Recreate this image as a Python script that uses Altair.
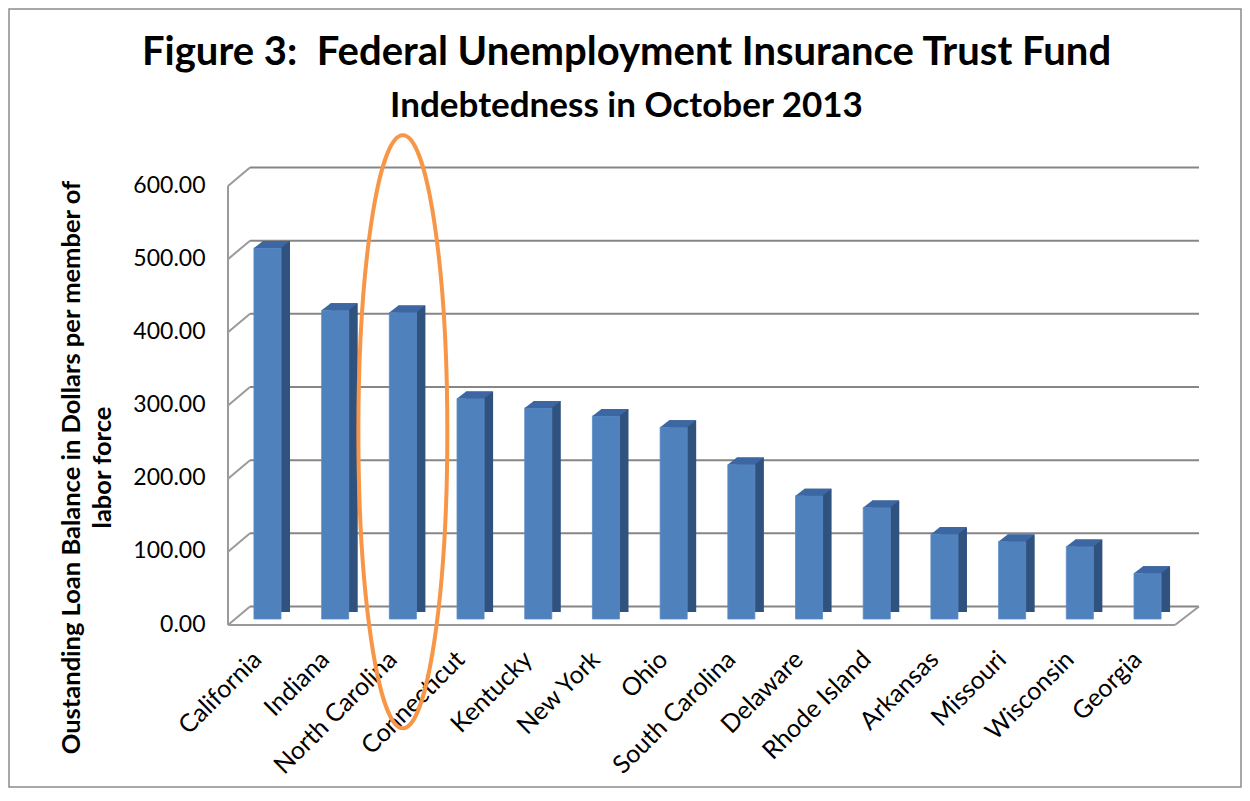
import altair as alt
import pandas as pd

# ---- data ----
states = ["California", "Indiana", "North Carolina", "Connecticut", "Kentucky",
          "New York", "Ohio", "South Carolina", "Delaware", "Rhode Island",
          "Arkansas", "Missouri", "Wisconsin", "Georgia"]
values = [507, 422, 419, 301.5, 288.5, 277.5, 262, 211, 168.5, 152.5,
          116, 106, 99, 62.5]
tick_values = [0, 100, 200, 300, 400, 500, 600]
highlight_state = ["North Carolina"]
highlight_center = [256]

title_line1 = "Figure 3:\u00a0 Federal Unemployment Insurance Trust Fund"
title_line2 = "Indebtedness in October 2013"
y_title = ["Oustanding Loan Balance in Dollars per member of", "labor force"]

df = pd.DataFrame({"state": states, "value": values})
ticks = pd.DataFrame({"tick": tick_values})
hl = pd.DataFrame({"state": highlight_state, "value": highlight_center})
one = pd.DataFrame({"a": [0]})

W, H = 959, 439
DX, DY = 22, -12.5      # back wall offset
FRONT = 6               # front edge offset
BACK_RIGHT = 971
FRONT_RIGHT = 947

FRONT_BLUE = "#4f81bd"
SIDE_BLUE = "#30527e"
TOP_BLUE = "#3d67a3"
GRID = "#868686"
FRONT_GRID = "#9a9a9a"
ORANGE = "#f79646"

x_scale = alt.Scale(domain=states, paddingInner=0.6, paddingOuter=0.383)
y_scale = alt.Scale(domain=[0, 600], nice=False, zero=True)

x_plain = alt.X("state:N", scale=x_scale, sort=states)
y_plain = alt.Y("value:Q", scale=y_scale)

base = alt.Chart(df)

# back wall gridlines
back_grid = alt.Chart(ticks).mark_rule(color=GRID, strokeWidth=2, yOffset=DY).encode(
    x=alt.value(DX), x2=alt.value(BACK_RIGHT),
    y=alt.Y("tick:Q", scale=y_scale))

# side-wall diagonals
diag = alt.Chart(ticks).mark_rule(color=FRONT_GRID, strokeWidth=2,
                                  yOffset=FRONT, y2Offset=DY).encode(
    x=alt.value(0), x2=alt.value(DX),
    y=alt.Y("tick:Q", scale=y_scale), y2="tick:Q")

front_axis = alt.Chart(one).mark_rule(color=FRONT_GRID, strokeWidth=2,
                                      yOffset=FRONT, y2Offset=FRONT).encode(
    x=alt.value(0), y=alt.Y(datum=600, scale=y_scale), y2=alt.Y2(datum=0))

front_floor = alt.Chart(one).mark_rule(color=FRONT_GRID, strokeWidth=2, yOffset=FRONT).encode(
    x=alt.value(0), x2=alt.value(FRONT_RIGHT), y=alt.Y(datum=0, scale=y_scale))

right_floor = alt.Chart(one).mark_rule(color=FRONT_GRID, strokeWidth=2,
                                       yOffset=FRONT, y2Offset=DY).encode(
    x=alt.value(FRONT_RIGHT), x2=alt.value(BACK_RIGHT),
    y=alt.Y(datum=0, scale=y_scale), y2=alt.Y2(datum=0))

side = base.mark_bar(color=SIDE_BLUE, xOffset=9, yOffset=-7, y2Offset=5).encode(
    x=x_plain, y=y_plain)

front = base.mark_bar(color=FRONT_BLUE, stroke="#5b8bc6", strokeWidth=0.8).encode(
    x=alt.X("state:N", scale=x_scale, sort=states,
            axis=alt.Axis(title=None, labelAngle=-45, labelAlign="right",
                          labelBaseline="middle", labelPadding=36, labelOffset=-10,
                          domain=False, ticks=False, grid=False, labelFont="Lato",
                          labelFontSize=25, labelColor="black", labelLimit=400)),
    y=alt.Y("value:Q", scale=y_scale,
            axis=alt.Axis(values=tick_values, format=".2f", title=y_title,
                          domain=False, ticks=False, grid=False,
                          labelFont="Lato", labelFontSize=23, labelColor="black",
                          labelPadding=23, labelOffset=5,
                          titleFont="Lato", titleFontSize=25.5, titleFontWeight="bold",
                          titleColor="black", titleX=-157, titleY=287,
                          titleAlign="center", titleBaseline="middle",
                          titleLineHeight=31)))

TOP_PATH = "M-1,0 L-0.333,-0.519 L1.667,-0.519 L1,0 Z"
top = base.mark_point(shape=TOP_PATH, size=729, filled=True, color=TOP_BLUE,
                      opacity=1, strokeWidth=0).encode(x=x_plain, y=y_plain)

ELLIPSE = ("M0,-1 C0.0828,-1 0.15,-0.5523 0.15,0 C0.15,0.5523 0.0828,1 0,1 "
           "C-0.0828,1 -0.15,0.5523 -0.15,0 C-0.15,-0.5523 -0.0828,-1 0,-1 Z")
ellipse = alt.Chart(hl).mark_point(shape=ELLIPSE, size=593 ** 2, filled=False,
                                   stroke=ORANGE, strokeWidth=4, opacity=1).encode(
    x=x_plain, y=y_plain)

frame = alt.Chart(one).mark_rect(filled=False, fill="transparent", stroke="#8c8c8c",
                                 strokeWidth=1.5).encode(
    x=alt.value(-219), x2=alt.value(1013), y=alt.value(-171), y2=alt.value(607))

chart = alt.layer(
    back_grid, diag, front_axis, front_floor, right_floor,
    side, front, top, ellipse, frame
).properties(
    width=W, height=H,
    title=alt.TitleParams(text=title_line1, subtitle=title_line2,
                          font="Lato", fontSize=40, fontWeight="bold", color="black",
                          subtitleFont="Lato", subtitleFontSize=35,
                          subtitleFontWeight="bold", subtitleColor="black",
                          subtitlePadding=16,
                          anchor="middle", frame="group", dx=-81, offset=-116),
    autosize=alt.AutoSizeParams(type="none"),
    padding={"left": 220, "top": 172, "right": 55, "bottom": 169},
).configure(background="white").configure_view(stroke=None).configure_axis(
    grid=False, domain=False, ticks=False)

chart.save("out.html", embed_options={"renderer": "svg", "actions": False})
